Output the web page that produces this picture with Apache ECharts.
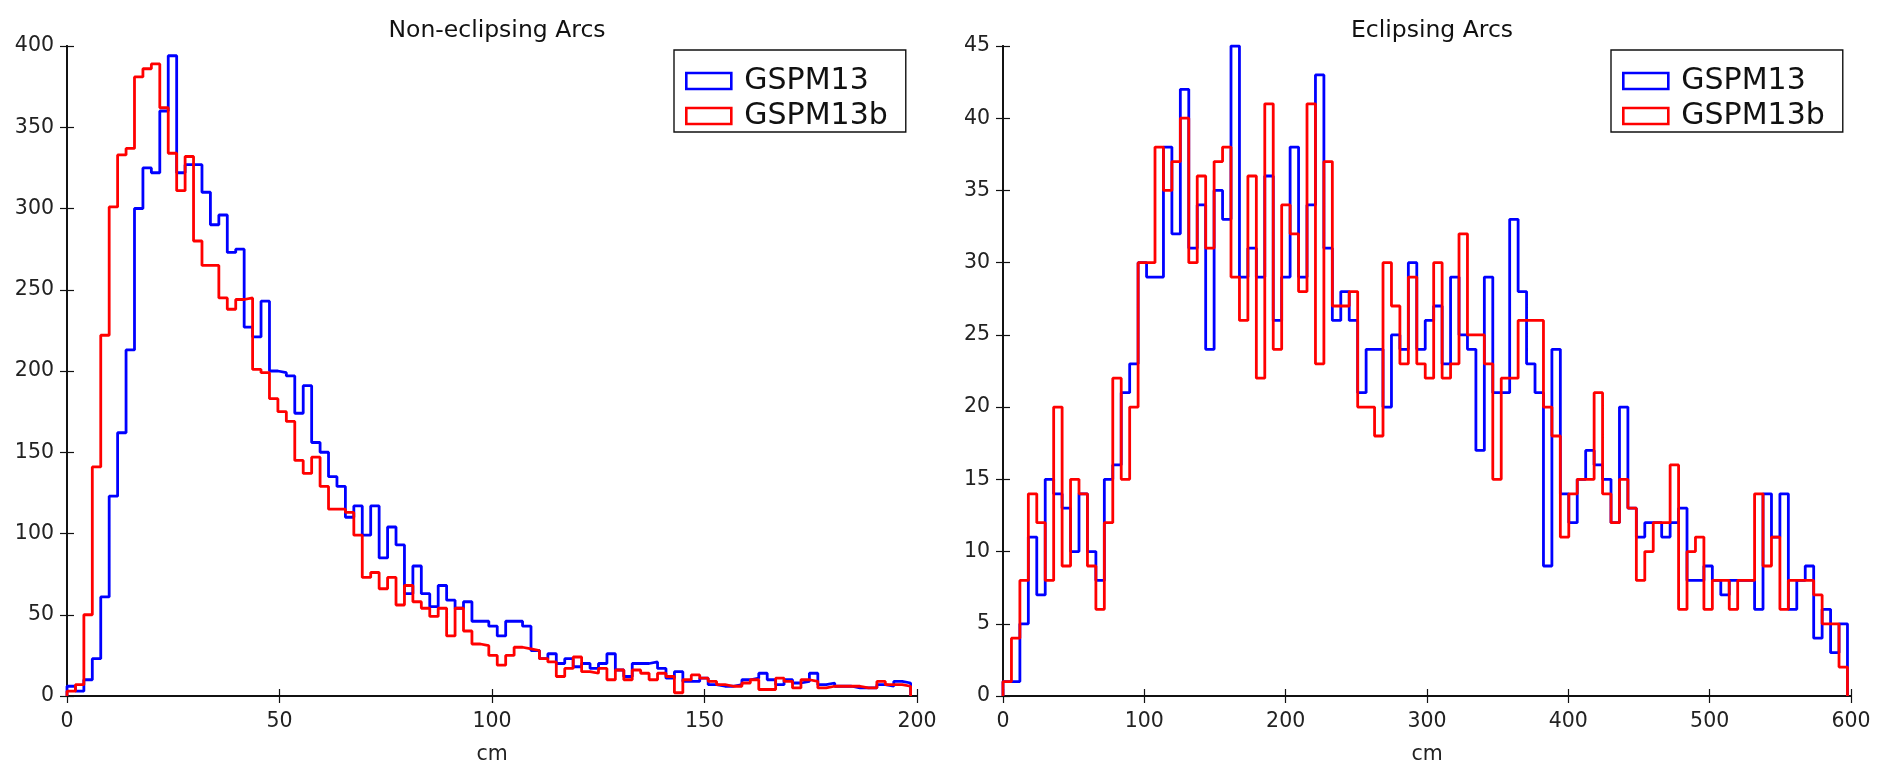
<!DOCTYPE html>
<html>
<head>
<meta charset="utf-8">
<title>Arcs</title>
<script src="https://cdn.jsdelivr.net/npm/echarts@6/dist/echarts.min.js"></script>
<style>
  html, body { margin: 0; padding: 0; background: #fff; }
  #main { width: 1877px; height: 770px; }
</style>
</head>
<body>
<div id="main"></div>
<script>
// 100 bins per panel, counts
const nonEclBinWidth = 1.985
const eclBinWidth = 5.975

const nonEclGSPM13 = [
  6, 3, 10, 23, 61, 123, 162, 213, 300, 325,
  322, 360, 394, 322, 327, 327, 310, 290, 296, 273,
  275, 227, 221, 243, 200, 199, 197, 174, 191, 156,
  150, 135, 129, 110, 117, 99, 117, 85, 104, 93,
  63, 80, 63, 55, 68, 59, 54, 58, 46, 46,
  43, 37, 46, 46, 43, 28, 23, 26, 20, 23,
  18, 20, 17, 20, 26, 16, 12, 20, 20, 21,
  17, 11, 15, 9, 9, 11, 7, 6, 6, 7,
  10, 11, 14, 10, 7, 10, 8, 9, 14, 7,
  8, 6, 6, 5, 5, 5, 7, 6, 9, 8
]
const nonEclGSPM13b = [
  3, 7, 50, 141, 222, 301, 333, 337, 381, 386,
  389, 362, 334, 311, 332, 280, 265, 265, 245, 238,
  244, 245, 201, 199, 183, 175, 169, 145, 137, 147,
  129, 115, 115, 113, 99, 73, 76, 66, 73, 56,
  68, 58, 54, 49, 54, 37, 54, 40, 32, 31,
  25, 19, 25, 30, 29, 28, 23, 21, 12, 17,
  24, 15, 14, 17, 10, 16, 10, 16, 14, 10,
  14, 12, 2, 10, 13, 11, 9, 7, 6, 6,
  8, 10, 4, 4, 11, 9, 5, 10, 9, 5,
  6, 6, 6, 6, 5, 5, 9, 7, 7, 6
]

const eclGSPM13 = [
  1, 1, 5, 11, 7, 15, 14, 13, 10, 14,
  10, 8, 15, 16, 21, 23, 30, 29, 29, 38,
  32, 42, 31, 34, 24, 35, 33, 45, 29, 31,
  29, 36, 26, 29, 38, 29, 34, 43, 31, 26,
  28, 26, 21, 24, 24, 20, 25, 24, 30, 24,
  26, 27, 23, 29, 25, 24, 17, 29, 21, 21,
  33, 28, 23, 21, 9, 24, 14, 12, 15, 17,
  16, 15, 12, 20, 13, 11, 12, 12, 11, 12,
  13, 8, 8, 9, 8, 7, 8, 8, 8, 6,
  14, 11, 14, 6, 8, 9, 4, 6, 3, 5
]
const eclGSPM13b = [
  1, 4, 8, 14, 12, 8, 20, 9, 15, 14,
  9, 6, 12, 22, 15, 20, 30, 30, 38, 35,
  37, 40, 30, 36, 31, 37, 38, 29, 26, 36,
  22, 41, 24, 34, 32, 28, 41, 23, 37, 27,
  27, 28, 20, 20, 18, 30, 27, 23, 29, 23,
  22, 30, 22, 23, 32, 25, 25, 23, 15, 22,
  22, 26, 26, 26, 20, 18, 11, 14, 15, 15,
  21, 14, 12, 15, 13, 8, 10, 12, 12, 16,
  6, 10, 11, 6, 8, 8, 6, 8, 8, 14,
  9, 11, 6, 8, 8, 8, 7, 5, 5, 2
]

const nonEclTicksX = [0, 50, 200]
const eclTicksX = [0, 100, 600]
const nonEclTicksY = [0, 50, 400]
const eclTicksY = [0, 5, 45]

const FONT = 'DejaVu Sans'
const BLUE = '#0000ff'
const RED = '#ff0000'

// outline of a step histogram: (edge, count) pairs closed down to zero
function stepData(counts, width) {
  let pts = [[0, 0]]
  counts.forEach((c, i) => pts.push([i * width, c]))
  let end = counts.length * width
  pts.push([end, counts[counts.length - 1]])
  pts.push([end, 0])
  return pts
}

const frame = { show: true, lineStyle: { color: '#111', width: 1.8 } }
const tick = { show: true, inside: true, length: 7, lineStyle: { color: '#111', width: 1.2 } }
const label = { fontSize: 20.5, color: '#222', fontFamily: FONT }

function xAxes(grid, t) {
  let base = { gridIndex: grid, type: 'value', min: t[0], interval: t[1], max: t[2],
    axisLine: frame, axisTick: tick, splitLine: { show: false } }
  return [
    Object.assign({}, base, {
      position: 'bottom',
      axisLabel: Object.assign({ margin: 15 }, label),
      name: 'cm', nameLocation: 'middle', nameGap: 48,
      nameTextStyle: { fontSize: 20.5, color: '#222', fontFamily: FONT }
    }),
    Object.assign({}, base, { position: 'top', axisLabel: { show: false } })
  ]
}
function yAxes(grid, t) {
  let base = { gridIndex: grid, type: 'value', min: t[0], interval: t[1], max: t[2],
    axisLine: frame, axisTick: tick, splitLine: { show: false } }
  return [
    Object.assign({}, base, { position: 'left', axisLabel: Object.assign({ margin: 13 }, label) }),
    Object.assign({}, base, { position: 'right', axisLabel: { show: false } })
  ]
}

function legendAt(left) {
  return {
    orient: 'vertical', left: left, top: 50,
    padding: [16, 18, 1, 11], itemGap: 5,
    itemWidth: 45, itemHeight: 16,
    borderColor: '#111', borderWidth: 1.4, borderRadius: 0,
    backgroundColor: '#fff',
    textStyle: { fontSize: 30, color: '#111', fontFamily: FONT, padding: [0, 0, 0, 8] },
    selectedMode: false,
    data: [
      { name: 'GSPM13', icon: 'rect', itemStyle: { color: '#fff', borderColor: BLUE, borderWidth: 2.6 } },
      { name: 'GSPM13b', icon: 'rect', itemStyle: { color: '#fff', borderColor: RED, borderWidth: 2.6 } }
    ]
  }
}

function histSeries(name, color, counts, width, axis) {
  return {
    name: name, type: 'line', step: 'end', symbol: 'none',
    xAxisIndex: axis, yAxisIndex: axis,
    data: stepData(counts, width),
    lineStyle: { color: color, width: 2.8 },
    itemStyle: { color: color },
    animation: false
  }
}

const chart = echarts.init(document.getElementById('main'))
const option = {
  backgroundColor: '#fff',
  animation: false,
  title: [
    { text: 'Non-eclipsing Arcs', left: 492, top: 14, textAlign: 'center',
      textStyle: { fontSize: 23.5, fontWeight: 'normal', color: '#111', fontFamily: FONT } },
    { text: 'Eclipsing Arcs', left: 1427, top: 14, textAlign: 'center',
      textStyle: { fontSize: 23.5, fontWeight: 'normal', color: '#111', fontFamily: FONT } }
  ],
  grid: [
    { left: 67, top: 46, width: 850, height: 660 },
    { left: 1003, top: 46, width: 848, height: 660 }
  ],
  legend: [legendAt(674), legendAt(1611)],
  xAxis: xAxes(0, nonEclTicksX).concat(xAxes(1, eclTicksX)),
  yAxis: yAxes(0, nonEclTicksY).concat(yAxes(1, eclTicksY)),
  series: [
    histSeries('GSPM13', BLUE, nonEclGSPM13, nonEclBinWidth, 0),
    histSeries('GSPM13b', RED, nonEclGSPM13b, nonEclBinWidth, 0),
    histSeries('GSPM13', BLUE, eclGSPM13, eclBinWidth, 2),
    histSeries('GSPM13b', RED, eclGSPM13b, eclBinWidth, 2)
  ]
}
chart.setOption(option)
</script>
</body>
</html>
